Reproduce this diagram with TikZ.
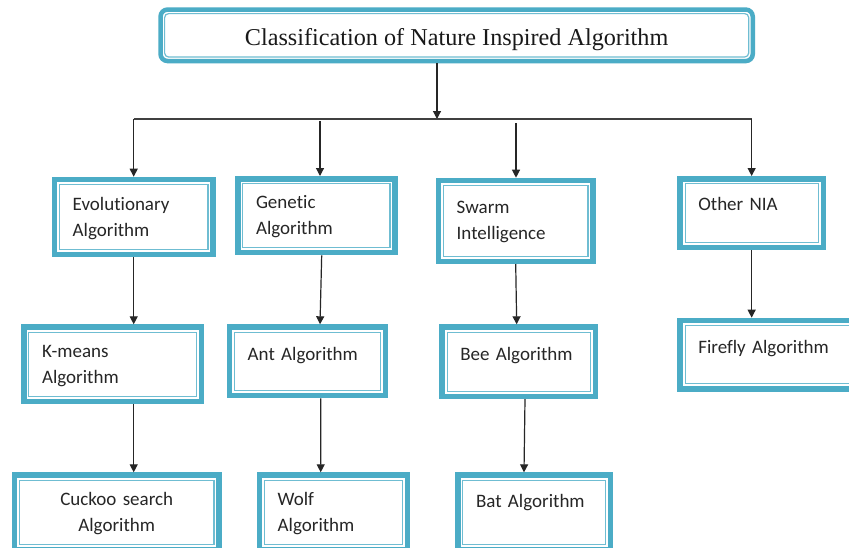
\documentclass[tikz,border=0pt]{standalone}
\usepackage{fontspec}
\setmainfont{Liberation Serif}
\newfontfamily\boxfont[Ligatures=NoCommon,WordSpace=0.85]{Carlito}
\usetikzlibrary{arrows.meta}
\definecolor{nia}{HTML}{4BACC6}
\definecolor{niain}{HTML}{6FBDD2}
\tikzset{
  nbox/.style={draw=nia, line width=5.5pt, fill=white, inner sep=0pt,
    font=\boxfont\fontsize{19}{26}\selectfont, text=black!85, align=left,
    execute at begin node={\rule{0pt}{15.5pt}}},
  tbox/.style={draw=nia, line width=4.5pt, fill=white, inner sep=0pt, rounded corners=7pt,
    font=\fontsize{24.2}{29}\selectfont, text=black!90},
  inl/.style={draw=niain, line width=1.2pt},
  arr/.style={-{Triangle[width=8pt,length=8pt]}, line width=1.2pt, draw=black!85},
  hline/.style={line width=1.2pt, draw=black!75},
}
\begin{document}
\begin{tikzpicture}[x=1pt,y=-1pt]
\useasboundingbox (0,0) rectangle (849,547);
\fill[white] (0,0) rectangle (849,547);
\clip (0,0) rectangle (849,547);

% title
\node[tbox, minimum width=592.2pt, minimum height=51.5pt, text height=22pt, text depth=1.2pt]
  (title) at (456.65,35.3) {Classification of Nature Inspired Algorithm};
\draw[draw=niain, line width=1.2pt, rounded corners=4pt]
  ([shift={(6.3pt,-6.3pt)}]title.north west) rectangle ([shift={(-6.3pt,6.3pt)}]title.south east);

% row 1
\node[nbox, minimum width=158.5pt, minimum height=75.1pt, text width=122pt] (evo) at (133.7,217) {Evolutionary\\Algorithm};
\node[nbox, minimum width=157.2pt, minimum height=73.8pt, text width=120.7pt] (gen) at (316.35,215.65) {Genetic\\Algorithm};
\node[nbox, minimum width=154.5pt, minimum height=80.8pt, text width=118pt] (swa) at (515.7,220.85) {Swarm\\Intelligence};
\node[nbox, minimum width=143.2pt, minimum height=68.5pt, text width=106.7pt] (oth) at (751.65,213) {Other NIA\\[-6pt]\mbox{}};

% row 2
\node[nbox, minimum width=177.5pt, minimum height=74.5pt, text width=141pt] (km) at (112.5,364.3) {K-means\\Algorithm};
\node[nbox, minimum width=156.1pt, minimum height=68.5pt, text width=119.6pt] (ant) at (307.5,361.3) {Ant Algorithm\\[-8pt]\mbox{}};
\node[nbox, minimum width=153.5pt, minimum height=69.2pt, text width=117pt] (bee) at (518.8,361.65) {Bee Algorithm\\[-8pt]\mbox{}};
\node[nbox, minimum width=187.2pt, minimum height=68.3pt, text width=150.7pt] (ff) at (773.65,354.6) {Firefly Algorithm\\[-8pt]\mbox{}};

% row 3
\node[nbox, align=center, minimum width=204.5pt, minimum height=74.2pt, text width=168pt] (ck) at (116.7,512.15) {Cuckoo search\\Algorithm};
\node[nbox, minimum width=147.8pt, minimum height=74.2pt, text width=111.3pt] (wolf) at (333.35,512.15) {Wolf\\Algorithm};
\node[nbox, minimum width=152.8pt, minimum height=74.2pt, text width=116.3pt] (bat) at (534.15,512.15) {Bat Algorithm\\[-1pt]\mbox{}};

% inner thin lines
\foreach \n in {evo,gen,swa,oth,km,ant,bee,ff,ck,wolf,bat}
  \draw[inl] ([shift={(7.8pt,-7.8pt)}]\n.north west) rectangle ([shift={(-7.8pt,7.8pt)}]\n.south east);

% connectors
\coordinate (hl) at (437,119);
\coordinate (gtop) at (320,121);
\coordinate (stop) at (516,123);
\draw[arr] ([xshift=-19.65pt]title.south) -- (hl);
\draw[hline] (evo.north |- hl) -- (oth.north |- hl);
\draw[arr] (evo.north |- hl) -- (evo.north);
\draw[arr] (gtop) -- (gtop |- gen.north);
\draw[arr] (stop) -- (stop |- swa.north);
\draw[arr] (oth.north |- hl) -- (oth.north);

\draw[arr] (evo.south) -- (evo.south |- km.north);
\draw[arr] (km.south -| evo.south) -- (ck.north -| evo.south);
\draw[arr] ([xshift=5.35pt]gen.south) -- ([xshift=12.5pt]ant.north);
\draw[arr] ([xshift=13.2pt]ant.south) -- ([xshift=-12.65pt]wolf.north);
\draw[arr] (swa.south) -- ([xshift=-2.1pt]bee.north);
\draw[arr] ([xshift=6.2pt]bee.south) -- ([xshift=-10.15pt]bat.north);
\draw[arr] (oth.south) -- (oth.south |- ff.north);
\end{tikzpicture}
\end{document}
